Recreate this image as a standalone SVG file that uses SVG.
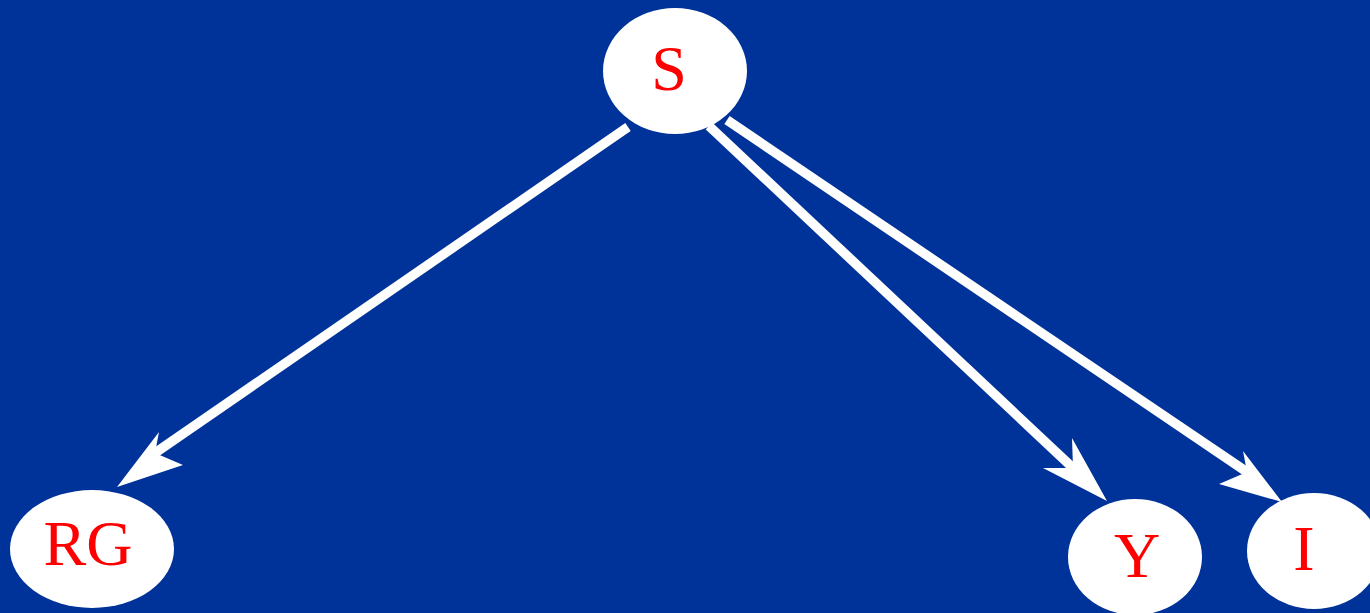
<svg xmlns="http://www.w3.org/2000/svg" width="1370" height="613" viewBox="0 0 1370 613">
<style>
.node{fill:#ffffff}
.lbl{fill:#ff0000;font-family:"Liberation Serif","Times New Roman",serif;font-size:64px;text-anchor:middle}
.edge{stroke:#ffffff;stroke-width:9.5;fill:none}
.head{fill:#ffffff}
</style>
<rect width="1370" height="613" fill="#003399"/>
<g id="connectors">
<line class="edge" x1="628" y1="127" x2="155" y2="453"/>
<polygon class="head" points="117,487 159,432 155,453 183,465"/>
<line class="edge" x1="709" y1="126" x2="1073" y2="468"/>
<polygon class="head" points="1107,501 1072,438 1073,468 1043,468"/>
<line class="edge" x1="727" y1="120" x2="1247" y2="472"/>
<polygon class="head" points="1282,502 1243,451 1247,472 1219,484"/>
</g>
<g id="node-S">
<ellipse class="node" cx="675" cy="71" rx="72" ry="63"/>
<text class="lbl" x="669" y="90">S</text>
</g>
<g id="node-RG">
<ellipse class="node" cx="92" cy="549" rx="82" ry="59"/>
<text class="lbl" x="88" y="565">RG</text>
</g>
<g id="node-Y">
<ellipse class="node" cx="1135" cy="557" rx="67" ry="58"/>
<text class="lbl" x="1137" y="577">Y</text>
</g>
<g id="node-I">
<ellipse class="node" cx="1314" cy="551" rx="67" ry="58"/>
<text class="lbl" x="1304" y="570">I</text>
</g>
</svg>
